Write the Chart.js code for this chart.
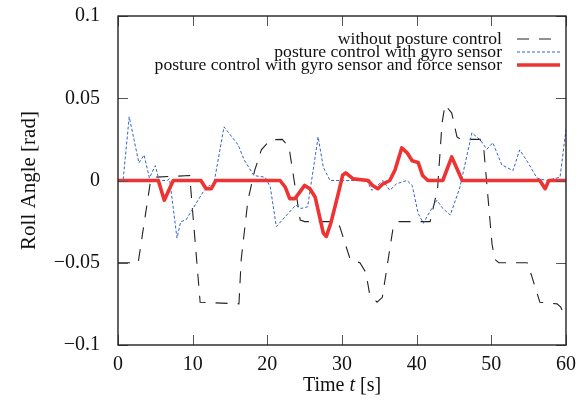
<!DOCTYPE html>
<html>
<head>
<meta charset="utf-8">
<script src="https://cdn.jsdelivr.net/npm/chart.js@4"></script>
<style>
  html, body { margin: 0; padding: 0; background: #fff; }
  #wrap { width: 587px; height: 403px; }
</style>
</head>
<body>
<div id="wrap"><canvas id="rollChart" width="587" height="403"></canvas></div>
<script>
// time [s] and roll angle [rad]
const seriesNames = ['without posture control', 'posture control with gyro sensor', 'posture control with gyro sensor and force sensor'];

const blackT = [0, 2.7, 4.3, 4.8, 9.6, 11.0, 16.2, 16.5, 17.4, 18.3, 19.2, 20.4, 22.0, 22.9, 24.4, 25.0, 29.1, 29.7, 31.1, 32.4, 33.2, 33.7, 34.7, 35.4, 36.8, 37.5, 40.8, 41.8, 42.8, 43.4, 43.8, 44.7, 45.4, 45.9, 48.5, 49.0, 50.1, 50.5, 51.0, 54.8, 55.4, 56.5, 58.8, 59.3, 59.9, 60];
const blackV = [-0.05, -0.05, -0.002, 0.002, 0.003, -0.074, -0.075, -0.048, -0.012, 0.006, 0.0186, 0.0247, 0.025, 0.0204, -0.024, -0.025, -0.025, -0.028, -0.048, -0.05, -0.056, -0.069, -0.074, -0.071, -0.03, -0.025, -0.025, -0.025, -0.005, 0.035, 0.046, 0.041, 0.0265, 0.025, 0.025, 0.0186, -0.039, -0.048, -0.05, -0.05, -0.058, -0.074, -0.075, -0.077, -0.083, -0.083];

const blueT = [0, 0.7, 1.5, 2.8, 3.5, 4.2, 5.0, 5.5, 6.6, 6.9, 7.9, 8.4, 9.1, 11.4, 12.2, 12.8, 14.2, 16.1, 16.9, 18.2, 19.7, 20.4, 21.2, 23.8, 24.5, 25.4, 26.8, 27.5, 28.4, 33.3, 34.0, 35.5, 36.4, 37.3, 38.7, 39.4, 40.2, 40.9, 41.5, 42.7, 43.5, 44.5, 45.8, 47.4, 48.5, 49.4, 50.2, 51.4, 52.9, 53.8, 54.9, 56.1, 57.4, 59.2, 60];
const blueV = [0, 0.001, 0.0387, 0.0107, 0.0155, 0.0015, 0.009, 0, 0, 0.001, -0.035, -0.025, -0.024, -0.007, -0.003, -0.003, 0.0326, 0.0216, 0.0125, 0.003, 0.002, -0.004, -0.028, -0.015, -0.017, -0.016, 0.0265, 0.008, 0, 0, -0.006, 0, -0.006, -0.002, 0, -0.003, -0.02, -0.026, -0.021, -0.012, -0.017, -0.021, -0.004, 0.029, 0.0247, 0.019, 0.023, 0.0095, 0.006, 0.0186, 0.011, 0.0015, 0, 0.002, 0.031];

const redT = [0, 5.4, 6.2, 7.4, 11.1, 11.8, 12.5, 13.1, 21.7, 22.4, 23.0, 23.7, 25.0, 25.7, 26.4, 27.5, 27.9, 28.5, 29.5, 30.1, 30.5, 31.5, 33.5, 34.1, 34.8, 35.5, 36.4, 37.1, 38.0, 38.7, 39.4, 40.2, 40.8, 41.5, 43.5, 44.7, 46.1, 56.5, 57.2, 57.7, 60];
const redV = [0, 0, -0.012, 0, 0, -0.005, -0.005, 0, 0, -0.004, -0.011, -0.011, -0.003, -0.005, -0.010, -0.032, -0.034, -0.026, -0.008, 0.0034, 0.0046, 0.001, 0, -0.003, -0.005, -0.002, 0, 0.0064, 0.0198, 0.017, 0.012, 0.011, 0.003, 0, 0, 0.0143, 0, 0, -0.005, 0, 0];

const xTicks = [0, 10, 20, 30, 40, 50, 60];
const yTicks = [-0.1, -0.05, 0, 0.05, 0.1];

const serif = '"Liberation Serif", "DejaVu Serif", serif';
const pts = (ts, vs) => ts.map((t, i) => ({ x: t, y: vs[i] }));

// inward tick marks on all four sides + frame, titles, legend
const frame = {
  id: 'frame',
  afterDatasetsDraw(chart) {
    const { ctx, chartArea: a, scales: { x, y } } = chart;
    const len = 10;
    ctx.save();
    ctx.strokeStyle = '#555';
    ctx.lineWidth = 1;
    ctx.beginPath();
    xTicks.forEach(v => {
      const px = Math.round(x.getPixelForValue(v)) + 0.5;
      ctx.moveTo(px, a.bottom); ctx.lineTo(px, a.bottom - len);
      ctx.moveTo(px, a.top); ctx.lineTo(px, a.top + len);
    });
    yTicks.forEach(v => {
      const py = Math.round(y.getPixelForValue(v)) + 0.5;
      ctx.moveTo(a.left, py); ctx.lineTo(a.left + len, py);
      ctx.moveTo(a.right, py); ctx.lineTo(a.right - len, py);
    });
    ctx.stroke();
    ctx.strokeStyle = '#222';
    ctx.lineWidth = 1.4;
    ctx.strokeRect(a.left, a.top, a.right - a.left, a.bottom - a.top);
    ctx.restore();
  },
  afterDraw(chart) {
    const { ctx, chartArea: a } = chart;
    ctx.save();
    ctx.fillStyle = '#111';
    ctx.font = '21px ' + serif;
    ctx.textAlign = 'center';
    ctx.textBaseline = 'middle';
    ctx.translate(29, (a.top + a.bottom) / 2);
    ctx.rotate(-Math.PI / 2);
    ctx.fillText('Roll Angle [rad]', 0, 0);
    ctx.restore();

    ctx.save();
    ctx.fillStyle = '#111';
    ctx.textBaseline = 'middle';
    ctx.textAlign = 'left';
    const up = '20px ' + serif, it = 'italic 20px ' + serif;
    const parts = [['Time ', up], ['t', it], [' [s]', up]];
    let w = 0;
    parts.forEach(p => { ctx.font = p[1]; w += ctx.measureText(p[0]).width; });
    let cx = (a.left + a.right) / 2 - w / 2;
    parts.forEach(p => { ctx.font = p[1]; ctx.fillText(p[0], cx, 386); cx += ctx.measureText(p[0]).width; });

    ctx.font = '17.6px ' + serif;
    ctx.textAlign = 'right';
    const rows = [39, 52, 65];
    chart.data.datasets.forEach((ds, i) => {
      ctx.fillStyle = '#111';
      ctx.fillText(ds.label, 502, rows[i]);
      ctx.strokeStyle = ds.borderColor;
      ctx.lineWidth = ds.borderWidth;
      ctx.setLineDash(ds.borderDash || []);
      ctx.beginPath();
      ctx.moveTo(517, rows[i]); ctx.lineTo(560, rows[i]);
      ctx.stroke();
    });
    ctx.restore();
  }
};

new Chart(document.getElementById('rollChart').getContext('2d'), {
  type: 'line',
  data: {
    datasets: [{
      label: seriesNames[0],
      data: pts(blackT, blackV),
      borderColor: '#222',
      borderWidth: 1.1,
      borderDash: [12, 10],
      order: 3
    }, {
      label: seriesNames[1],
      data: pts(blueT, blueV),
      borderColor: '#3563c4',
      borderWidth: 1,
      borderDash: [3, 2],
      order: 2
    }, {
      label: seriesNames[2],
      data: pts(redT, redV),
      borderColor: '#ee3333',
      borderWidth: 3.6,
      borderJoinStyle: 'round',
      borderCapStyle: 'round',
      order: 1
    }]
  },
  options: {
    responsive: false,
    animation: false,
    layout: { padding: { top: 16, right: 21, left: 0, bottom: 0 } },
    elements: { point: { radius: 0 }, line: { tension: 0 } },
    plugins: { legend: { display: false }, tooltip: { enabled: false } },
    scales: {
      x: {
        type: 'linear', min: 0, max: 60,
        afterBuildTicks: s => { s.ticks = xTicks.map(v => ({ value: v })); },
        afterFit: s => { s.height = 58; s.paddingLeft = 0; s.paddingRight = 0; },
        grid: { display: false, drawTicks: false },
        border: { display: false },
        ticks: { font: { family: serif, size: 20 }, color: '#111', padding: 8, maxRotation: 0 }
      },
      y: {
        type: 'linear', min: -0.1, max: 0.1,
        afterBuildTicks: s => { s.ticks = yTicks.map(v => ({ value: v })); },
        afterFit: s => { s.width = 118; s.paddingTop = 0; s.paddingBottom = 0; },
        grid: { display: false, drawTicks: false },
        border: { display: false },
        ticks: {
          font: { family: serif, size: 20 }, color: '#111', padding: 18,
          callback: v => v === 0 ? '0' : (v < 0 ? '\u2212' : '') + Math.abs(v)
        }
      }
    }
  },
  plugins: [frame]
});
</script>
</body>
</html>
